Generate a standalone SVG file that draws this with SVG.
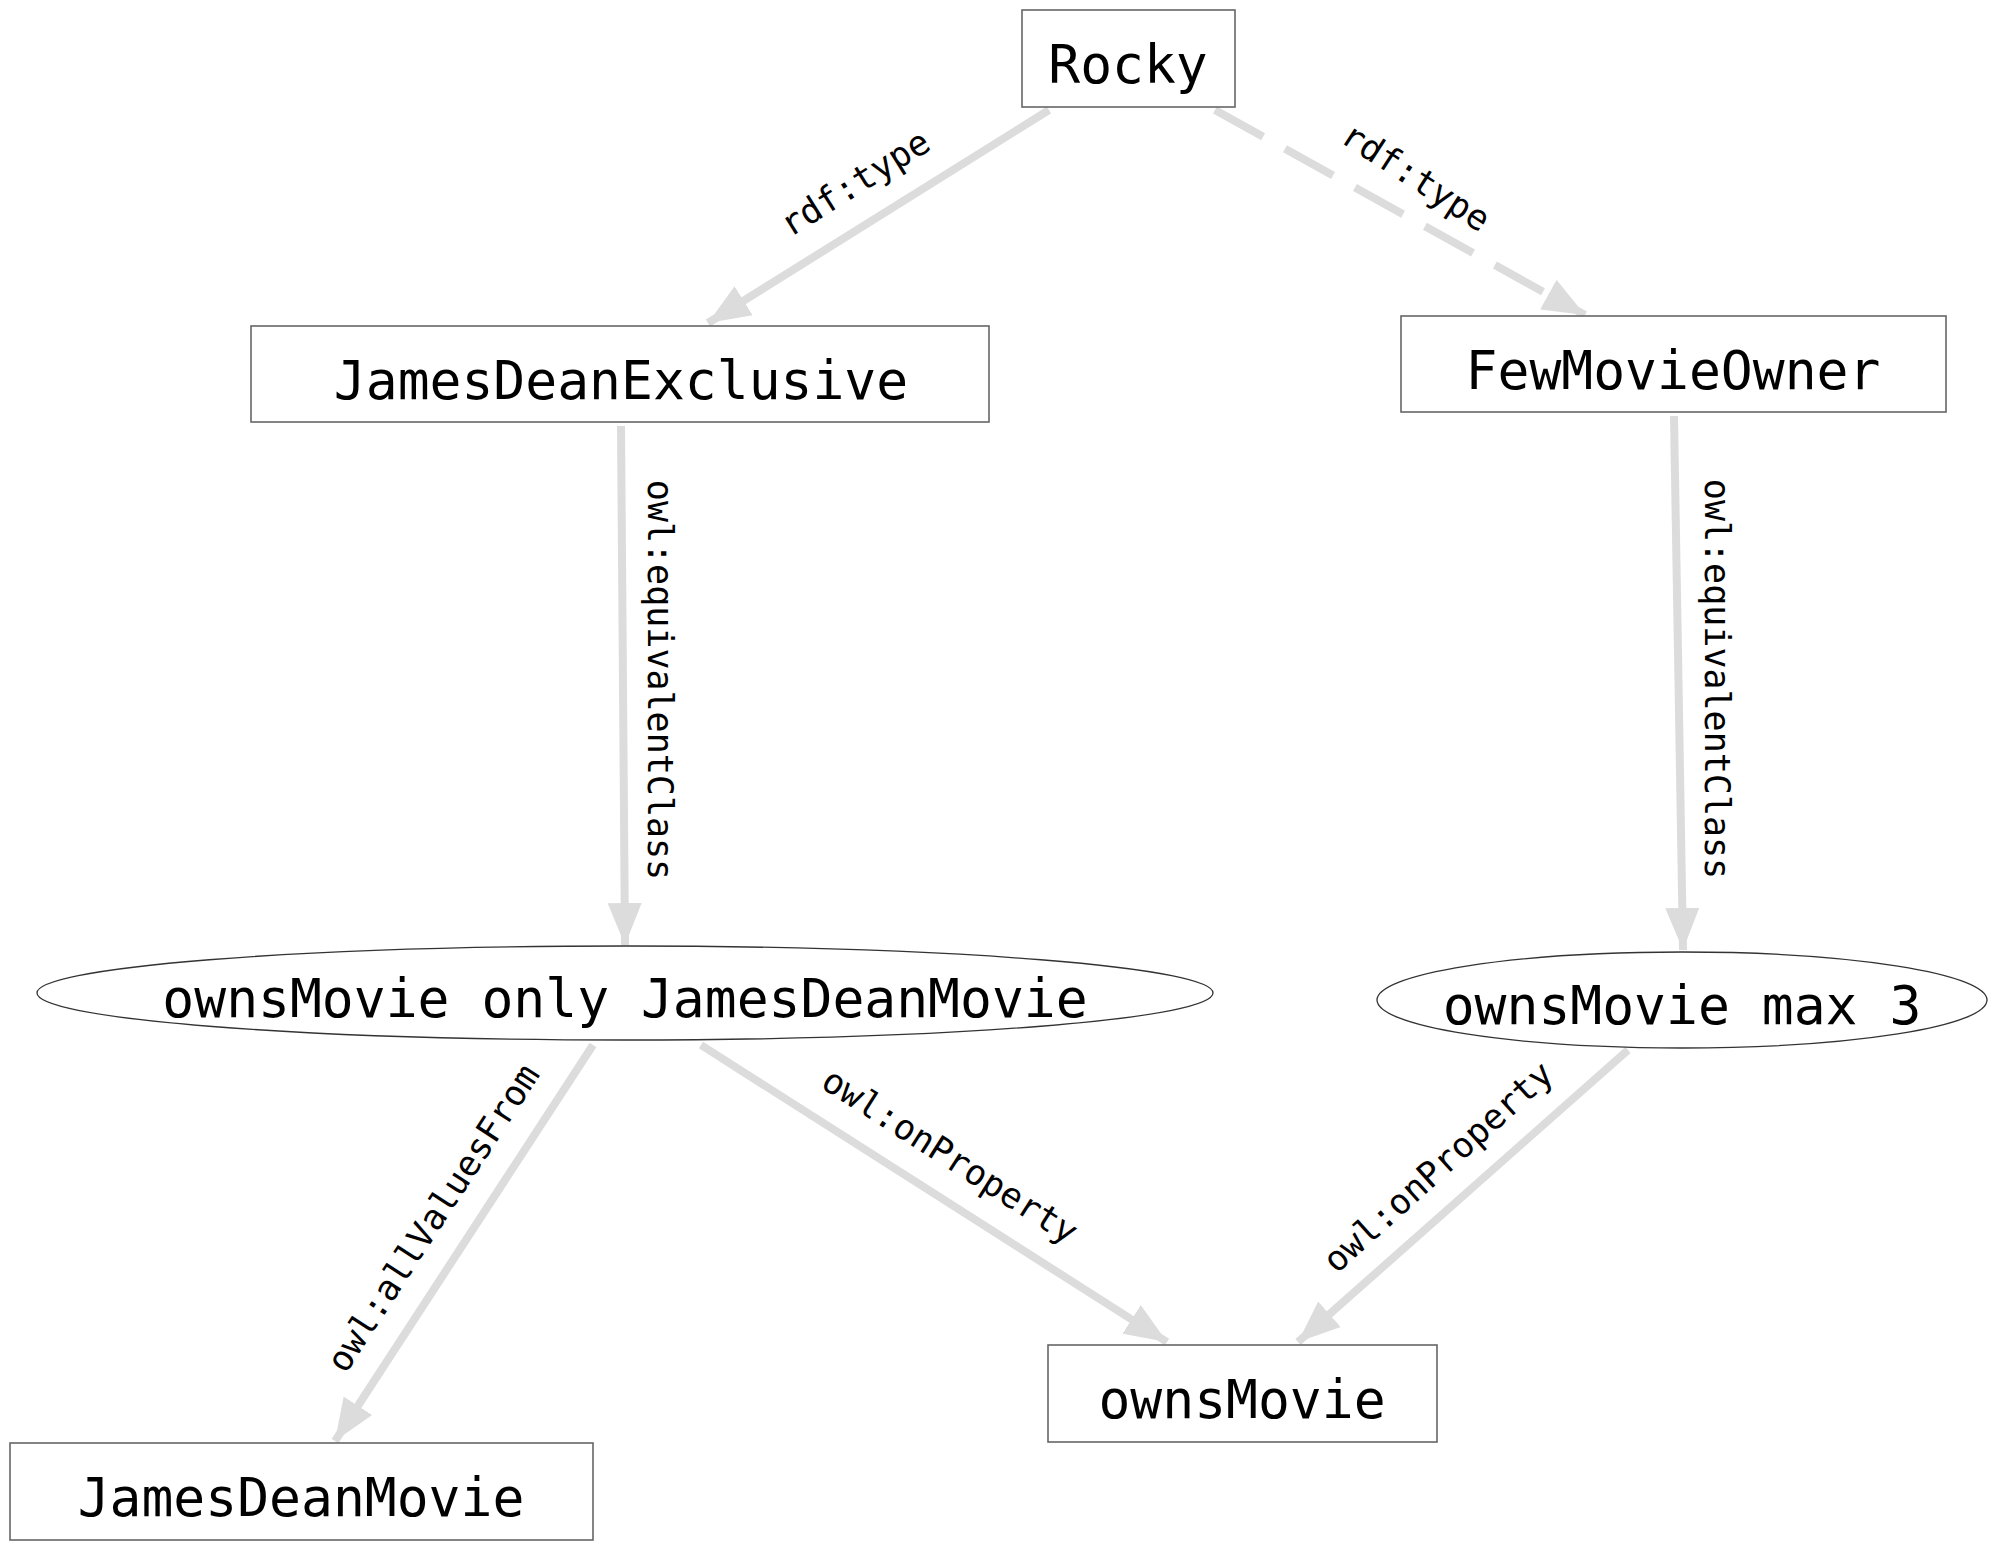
<svg xmlns="http://www.w3.org/2000/svg" width="1999" height="1553" viewBox="0 0 1999 1553">
<style>
.box{fill:#fff;stroke:#666;stroke-width:1.6}
.ell{fill:#fff;stroke:#333;stroke-width:1.3}
.nt{font-family:"DejaVu Sans Mono",monospace;font-size:53px;fill:#000;text-anchor:middle}
.edge{stroke:#dcdcdc;stroke-width:8;fill:none}
.lbl{font-family:"DejaVu Sans Mono",monospace;font-size:35px;fill:#000;text-anchor:middle;dominant-baseline:central}
</style>
<defs>
<marker id="ah" markerUnits="userSpaceOnUse" markerWidth="44" markerHeight="36" refX="42" refY="17" orient="auto" viewBox="0 0 44 34">
<path d="M0,0 L42,17 L0,34 z" fill="#dcdcdc"/>
</marker>
</defs>
<rect width="1999" height="1553" fill="#fff"/>
<g id="connectors">
<line class="edge" x1="1049" y1="110" x2="708" y2="323" marker-end="url(#ah)"/>
<line class="edge" x1="1215" y1="110" x2="1585" y2="315" stroke-dasharray="55,25" marker-end="url(#ah)"/>
<line class="edge" x1="621" y1="426" x2="625" y2="945" marker-end="url(#ah)"/>
<line class="edge" x1="1674" y1="416" x2="1683" y2="950" marker-end="url(#ah)"/>
<line class="edge" x1="593" y1="1045" x2="335" y2="1441" marker-end="url(#ah)"/>
<line class="edge" x1="701" y1="1045" x2="1167" y2="1342" marker-end="url(#ah)"/>
<line class="edge" x1="1628" y1="1050" x2="1298" y2="1342" marker-end="url(#ah)"/>
<text class="lbl" transform="translate(855,183) rotate(-32)">rdf:type</text>
<text class="lbl" transform="translate(1416,177) rotate(33)">rdf:type</text>
<text class="lbl" transform="translate(660,680) rotate(90)">owl:equivalentClass</text>
<text class="lbl" transform="translate(1717,679) rotate(90)">owl:equivalentClass</text>
<text class="lbl" transform="translate(433,1218) rotate(-57)">owl:allValuesFrom</text>
<text class="lbl" transform="translate(950,1156) rotate(32.5)">owl:onProperty</text>
<text class="lbl" transform="translate(1438,1167) rotate(-42)">owl:onProperty</text>
</g>
<g id="rocky"><rect class="box" x="1022" y="10" width="213" height="97"/><text class="nt" x="1128" y="83">Rocky</text></g>
<g id="jamesDeanExclusive"><rect class="box" x="251" y="326" width="738" height="96"/><text class="nt" x="621" y="399">JamesDeanExclusive</text></g>
<g id="fewMovieOwner"><rect class="box" x="1401" y="316" width="545" height="96"/><text class="nt" x="1673" y="389">FewMovieOwner</text></g>
<g id="onlyRestriction"><ellipse class="ell" cx="625" cy="993" rx="588" ry="47"/><text class="nt" x="625" y="1017">ownsMovie only JamesDeanMovie</text></g>
<g id="maxRestriction"><ellipse class="ell" cx="1682" cy="1000" rx="305" ry="48"/><text class="nt" x="1682" y="1024">ownsMovie max 3</text></g>
<g id="ownsMovie"><rect class="box" x="1048" y="1345" width="389" height="97"/><text class="nt" x="1242" y="1418">ownsMovie</text></g>
<g id="jamesDeanMovie"><rect class="box" x="10" y="1443" width="583" height="97"/><text class="nt" x="301" y="1516">JamesDeanMovie</text></g>
</svg>
